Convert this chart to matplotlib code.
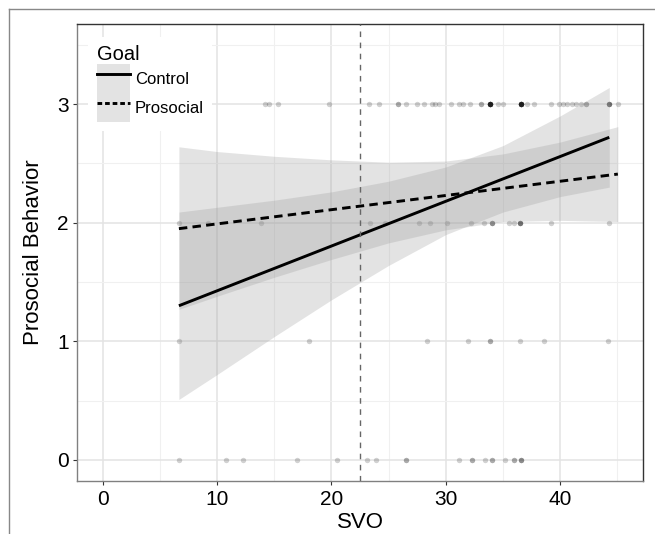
import matplotlib
matplotlib.use("Agg")
import matplotlib.pyplot as plt
from matplotlib.lines import Line2D
from matplotlib.patches import Patch
import numpy as np

plt.rcParams["font.family"] = ["Liberation Sans", "DejaVu Sans"]

# observed points (SVO, behaviour), with number of overlapping observations
row3_x = [14.2, 14.5, 15.3, 19.8, 23.3, 24.2, 25.8, 26.5, 27.5, 28.1, 28.8, 29.1, 29.4,
          30.5, 31.2, 31.5, 32.1, 33.1, 33.9, 34.6, 35.0, 36.6, 37.1, 37.7, 39.2, 39.9,
          40.25, 40.6, 41.0, 41.4, 41.8, 42.3, 44.3, 45.05]
row3_n = [1, 1, 1, 1, 1, 1, 2, 1, 1, 1, 1, 1, 1,
          1, 1, 1, 1, 2, 10, 1, 1, 10, 1, 1, 1, 1,
          1, 1, 1, 1, 1, 2, 4, 1]
row2_x = [6.66, 9.2, 13.8, 23.4, 24.7, 27.7, 28.6, 30.1, 32.2, 33.3, 34.0, 35.5, 36.0,
          36.5, 39.2, 44.3]
row2_n = [1, 1, 1, 1, 1, 1, 1, 1, 1, 1, 3, 1, 1, 4, 1, 1]
row1_x = [6.66, 18.05, 28.4, 31.9, 33.9, 36.5, 38.6, 44.2]
row1_n = [1, 1, 1, 1, 2, 1, 1, 1]
row0_x = [6.67, 10.8, 12.3, 17.0, 20.5, 23.1, 23.9, 26.5, 31.2, 32.3, 33.4, 34.0, 35.2,
          36.0, 36.6]
row0_n = [1, 1, 1, 1, 1, 1, 1, 2, 1, 2, 1, 2, 1, 2, 3]

# fitted lines and confidence bands
ctrl_x = [6.66, 44.3]
ctrl_y = [1.30, 2.72]
ctrl_band_x = [6.66, 10, 15, 20, 25, 30, 35, 40, 44.3]
ctrl_lo = [0.51, 0.72, 1.04, 1.35, 1.64, 1.90, 2.09, 2.22, 2.30]
ctrl_hi = [2.09, 2.13, 2.19, 2.26, 2.35, 2.47, 2.65, 2.90, 3.14]

pro_x = [6.66, 45.05]
pro_y = [1.95, 2.41]
pro_band_x = [6.66, 10, 15, 20, 25, 30, 35, 40, 45.05]
pro_lo = [1.27, 1.38, 1.54, 1.69, 1.83, 1.94, 2.01, 2.02, 2.01]
pro_hi = [2.64, 2.60, 2.56, 2.53, 2.51, 2.52, 2.58, 2.68, 2.81]

svo_mean = 22.46

fig = plt.figure(figsize=(6.55, 5.34), dpi=100)
ax = fig.add_axes([0.1176, 0.0998, 0.8641, 0.8552])

ax.set_xlim(-2.25, 47.25)
ax.set_ylim(-0.175, 3.675)
ax.set_xticks([0, 10, 20, 30, 40])
ax.set_xticks([5, 15, 25, 35, 45], minor=True)
ax.set_yticks([0, 1, 2, 3])
ax.set_yticks([0.5, 1.5, 2.5, 3.5], minor=True)
ax.grid(which="major", color="#e3e3e3", lw=1.1, zorder=0)
ax.grid(which="minor", color="#f0f0f0", lw=0.8, zorder=0)
ax.set_axisbelow(True)

for y, xs, ns in [(3, row3_x, row3_n), (2, row2_x, row2_n), (1, row1_x, row1_n), (0, row0_x, row0_n)]:
    px = np.repeat(xs, ns)
    ax.scatter(px, np.full(len(px), y), s=15, color="black", alpha=0.18, lw=0, zorder=2)

band_col = "#999999"
ax.fill_between(ctrl_band_x, ctrl_lo, ctrl_hi, color=band_col, alpha=0.27, lw=0, zorder=3)
ax.fill_between(pro_band_x, pro_lo, pro_hi, color=band_col, alpha=0.27, lw=0, zorder=3)

ax.plot(ctrl_x, ctrl_y, color="black", lw=2.1, zorder=4, solid_capstyle="butt")
ax.plot(pro_x, pro_y, color="black", lw=2.1, zorder=4, dashes=(2.9, 1.8))

ax.axvline(svo_mean, color="#666666", lw=1.0, dashes=(4, 4), zorder=5)

for s in ["left", "bottom"]:
    ax.spines[s].set_color("#808080")
    ax.spines[s].set_linewidth(1.0)
for s in ["top", "right"]:
    ax.spines[s].set_color("#333333")
    ax.spines[s].set_linewidth(1.0)

ax.tick_params(which="major", length=3, width=0.8, color="#333333", labelsize=15,
               labelcolor="black")
ax.tick_params(axis="x", pad=4)
ax.tick_params(axis="y", pad=3)
ax.tick_params(which="minor", length=0)

ax.set_xlabel("SVO", fontsize=16, labelpad=2)
ax.set_ylabel("Prosocial Behavior", fontsize=16, labelpad=9)

key_bg = Patch(facecolor=band_col, alpha=0.27, edgecolor="none")
h_ctrl = (key_bg, Line2D([], [], color="black", lw=2.1))
h_pro = (key_bg, Line2D([], [], color="black", lw=2.1, dashes=(1.6, 1.0)))
leg = ax.legend([h_ctrl, h_pro], ["Control", "Prosocial"], title="Goal",
                loc="upper left", bbox_to_anchor=(0.005, 0.99), fontsize=12,
                title_fontsize=14.5, frameon=True, facecolor="white", edgecolor="none",
                fancybox=False, handlelength=2.0, handleheight=2.3, labelspacing=0,
                handletextpad=0.3, borderpad=0.5, framealpha=1)
leg._legend_box.align = "left"
leg.set_zorder(6)

# outer frame lines of the original figure
fig.add_artist(Line2D([9 / 655, 1], [1 - 9 / 534, 1 - 9 / 534], color="#888888", lw=1.0))
fig.add_artist(Line2D([9 / 655, 9 / 655], [0, 1 - 9 / 534], color="#888888", lw=1.0))

fig.savefig("out.png", dpi=100)
